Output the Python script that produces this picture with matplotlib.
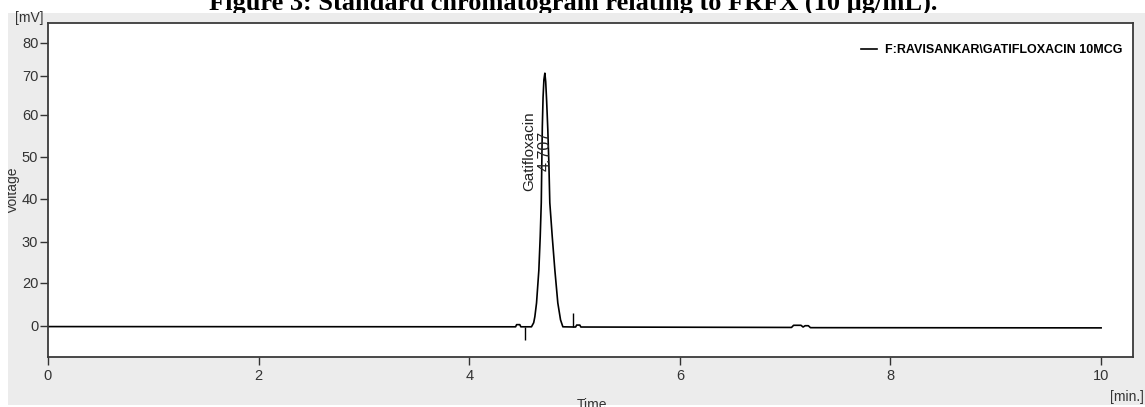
import numpy as np
import matplotlib
matplotlib.use("Agg")
import matplotlib.pyplot as plt
from matplotlib.patches import Rectangle

# chromatogram trace read from the detector output (time in min, signal in mV)
time_min = [0.0, 4.40, 4.44, 4.45, 4.48, 4.49, 4.591,
            4.612, 4.623, 4.639, 4.661, 4.674, 4.684, 4.689, 4.694, 4.701, 4.709, 4.718,
            4.726, 4.735, 4.746, 4.756, 4.765, 4.788, 4.813, 4.841, 4.867, 4.889,
            5.00, 5.01, 5.02, 5.05, 5.06,
            7.06, 7.08, 7.15, 7.17, 7.19, 7.22, 7.24, 10.0]
signal_mv = [-0.3, -0.4, -0.4, 0.6, 0.6, -0.4, -0.4,
             1.5, 4.3, 10.7, 23.1, 31.2, 39.1, 48.5, 57.2, 64.5, 69.0, 70.8,
             68.5, 63.5, 56.5, 48.5, 39.1, 31.2, 23.1, 10.7, 2.8, -0.4,
             -0.5, -0.5, 0.4, 0.4, -0.5,
             -0.7, 0.3, 0.3, -0.5, 0.1, 0.1, -0.8, -0.9]

# integration start / end markers
marker_t = [4.528, 4.988]
marker_lo = [-6.5, -0.4]
marker_hi = [-0.4, 5.9]

peak_name = "Gatifloxacin"
peak_rt = 4.707
trace_name = "F:RAVISANKAR\\GATIFLOXACIN 10MCG"

xticks = [0, 2, 4, 6, 8, 10]
yticks = [0, 20, 30, 40, 50, 60, 70, 80]

# the instrument's voltage axis is not evenly spaced
scale_v = [-100, 0, 20, 30, 40, 50, 60, 70, 80, 200]
scale_d = [-215, 0, 43, 84.3, 127, 169.3, 211, 250, 283, 679]

def fwd(v):
    return np.interp(v, scale_v, scale_d)

def inv(d):
    return np.interp(d, scale_d, scale_v)

W, H = 1145, 407
fig = plt.figure(figsize=(W / 100, H / 100), dpi=100)
fig.patch.set_facecolor("white")

# caption sits behind the instrument window, which hides its lower edge
fig.text(573 / W, 1 - 10 / H,
         "Figure 3: Standard chromatogram relating to FRFX (10 \u00b5g/mL).",
         ha="center", va="baseline", fontsize=19, fontweight="bold",
         family=["Liberation Serif", "DejaVu Serif"], color="black", zorder=-3)

panel = Rectangle((8 / W, 2 / H), 1 - 8 / W, (405 - 13) / H,
                  transform=fig.transFigure, facecolor="#ececec",
                  edgecolor="none", zorder=-2)
fig.patches.append(panel)

ax = fig.add_axes([48 / W, 1 - 356.7 / H, (1132.7 - 48) / W, (356.7 - 23) / H])
ax.set_facecolor("white")
ax.set_yscale("function", functions=(fwd, inv))

line, = ax.plot(time_min, signal_mv, color="black", lw=1.2, label=trace_name)
ax.vlines(marker_t, marker_lo, marker_hi, color="black", lw=1.0)

ax.set_xlim(0, 10.3)
ax.set_ylim(-14.3, 86.0)
ax.set_xticks(xticks)
ax.set_yticks(yticks)
ax.yaxis.set_minor_locator(matplotlib.ticker.NullLocator())

narrow = ["Liberation Sans Narrow", "Liberation Sans", "DejaVu Sans"]
for lab in ax.get_xticklabels() + ax.get_yticklabels():
    lab.set_family(narrow)
    lab.set_fontsize(10.5)
    lab.set_color("#333333")
ax.tick_params(axis="x", direction="out", length=6, width=1.0, pad=3, colors="#333333")
ax.tick_params(axis="y", direction="out", length=6, width=1.0, pad=1, colors="#333333")
for sp in ax.spines.values():
    sp.set_color("#3a3a3a")
    sp.set_linewidth(1.3)

ax.text(4.572, 51.4, peak_name, rotation=90, ha="center", va="center",
        rotation_mode="anchor", fontsize=11, family=["Liberation Sans", "DejaVu Sans"],
        color="#222222")
ax.text(4.72, 51.4, f"{peak_rt:.3f}", rotation=90, ha="center", va="center",
        rotation_mode="anchor", fontsize=11.5, family=["Liberation Sans", "DejaVu Sans"],
        color="#222222")

ax.legend(handles=[line], loc="center right",
          bbox_to_anchor=((1122 - 48) / (1132.7 - 48), 1 - 27 / (356.7 - 23)),
          frameon=False, borderpad=0, borderaxespad=0, handlelength=1.3,
          handletextpad=0.6,
          prop={"family": narrow, "weight": "bold", "size": 9})

# axis captions in the instrument's style
fig.text(15 / W, 1 - 18 / H, "[mV]", ha="left", va="center", fontsize=10,
         family=narrow, color="#333333")
vlab = fig.text(13 / W, 1 - 190 / H, "Voltage", rotation=90, ha="center",
                va="center", fontsize=10, family=narrow, color="#333333")
vlab.set_clip_path(panel)
fig.text(1144 / W, 1 - 397 / H, "[min.]", ha="right", va="center", fontsize=10,
         family=narrow, color="#333333")
fig.text(592 / W, 1 - 398 / H, "Time", ha="center", va="top", fontsize=10,
         family=narrow, color="#333333")

fig.savefig("out.png", dpi=100, facecolor=fig.get_facecolor())
